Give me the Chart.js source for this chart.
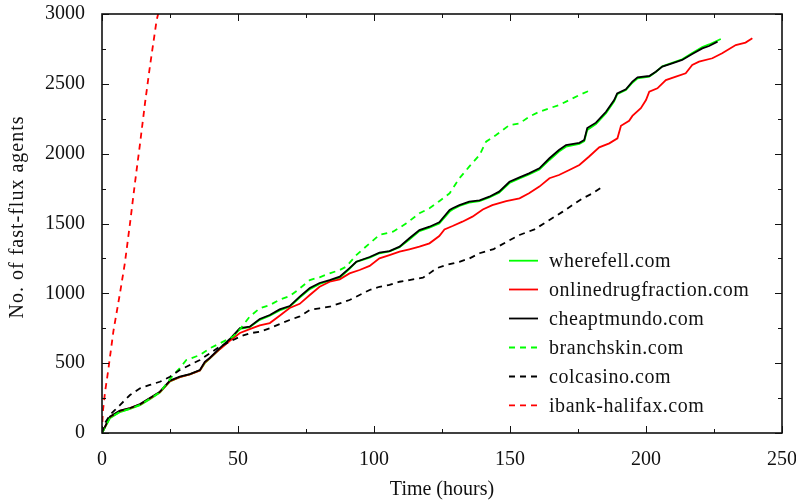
<!DOCTYPE html>
<html>
<head>
<meta charset="utf-8">
<script src="https://cdn.jsdelivr.net/npm/chart.js@4/dist/chart.umd.min.js"></script>
<style>
  html, body { margin: 0; padding: 0; background: #fff; }
  #wrap { width: 796px; height: 504px; }
</style>
</head>
<body>
<div id="wrap"><canvas id="c" width="796" height="504"></canvas></div>
<script>
// ---- Data ----
const seriesLabels = ["wherefell.com", "onlinedrugfraction.com", "cheaptmundo.com", "branchskin.com", "colcasino.com", "ibank-halifax.com"];

const wherefellX = [0, 2.9, 6.6, 10.3, 14, 17.6, 21.3, 25, 28.6, 32.3, 36, 37.8, 39.6, 43.3, 47, 50.7, 54.3, 58, 61.7, 65.3, 69, 72.7, 76.4, 80, 83.7, 87.4, 91, 93.5, 98.4, 102, 105.7, 109.4, 113, 116.7, 120.4, 124, 127.8, 128.9, 131.4, 135, 138.8, 142.4, 146, 149.8, 153.5, 157, 160.8, 164.5, 168, 170.6, 175.5, 177.3, 178.4, 181.6, 185.3, 188.3, 189.4, 192.6, 195, 196.9, 201.2, 203.6, 206, 209.6, 213.3, 217, 220.7, 223.2, 227.5];
const wherefellY = [0, 105, 150, 172, 200, 242, 290, 370, 400, 420, 448, 500, 532, 600, 665, 745, 758, 810, 840, 878, 905, 970, 1030, 1068, 1090, 1112, 1175, 1226, 1255, 1287, 1300, 1330, 1385, 1445, 1470, 1500, 1585, 1600, 1626, 1650, 1660, 1686, 1720, 1790, 1822, 1852, 1886, 1955, 2015, 2050, 2070, 2090, 2170, 2212, 2290, 2375, 2425, 2455, 2508, 2540, 2552, 2585, 2625, 2650, 2676, 2720, 2764, 2782, 2821];

const onlinedrugX = [0, 2.9, 6.6, 10.3, 14, 17.6, 21.3, 25, 28.6, 32.3, 36, 37.8, 39.6, 43.3, 47, 50.7, 54.3, 58, 61.7, 65.3, 69, 72.7, 76.4, 80, 83.7, 87.4, 91, 94.7, 98.4, 102, 105.7, 109.4, 113, 116.7, 120.4, 124, 125.9, 128.9, 132.5, 136.2, 140, 143.5, 148.6, 153.5, 157, 160.8, 164.5, 168, 171.8, 175.5, 179, 182.8, 186.5, 189.5, 190.8, 193.8, 195, 198.1, 200, 201.2, 204.2, 207.3, 211, 214.6, 217, 219.5, 224.4, 228, 233, 236.6, 239.1];
const onlinedrugY = [0, 115, 158, 178, 205, 248, 294, 372, 400, 420, 448, 505, 535, 600, 660, 716, 744, 770, 787, 840, 895, 925, 988, 1047, 1083, 1100, 1143, 1167, 1196, 1251, 1274, 1298, 1315, 1334, 1358, 1410, 1458, 1482, 1513, 1549, 1600, 1632, 1661, 1680, 1716, 1764, 1824, 1847, 1883, 1919, 1978, 2045, 2074, 2110, 2200, 2235, 2270, 2325, 2384, 2444, 2468, 2527, 2551, 2575, 2635, 2659, 2683, 2719, 2778, 2795, 2826];

const cheaptmundoX = [0, 2.9, 6.6, 10.3, 14, 17.6, 21.3, 25, 28.6, 32.3, 36, 37.8, 39.6, 43.3, 47, 50.7, 54.3, 58, 61.7, 65.3, 69, 72.7, 76.4, 80, 83.7, 87.4, 91, 93.5, 98.4, 102, 105.7, 109.4, 113, 116.7, 120.4, 124, 127.8, 128.9, 131.4, 135, 138.8, 142.4, 146, 149.8, 153.5, 157, 160.8, 164.5, 168, 170.6, 175.5, 177.3, 178.4, 181.6, 185.3, 188.3, 189.4, 192.6, 195, 196.9, 201.2, 203.6, 206, 209.6, 213.3, 217, 220.7, 223.2, 226.3];
const cheaptmundoY = [0, 117, 160, 179, 207, 250, 296, 375, 403, 422, 451, 510, 537, 608, 673, 751, 761, 816, 845, 885, 909, 976, 1038, 1074, 1095, 1119, 1181, 1226, 1260, 1291, 1303, 1334, 1394, 1453, 1477, 1508, 1597, 1609, 1632, 1656, 1666, 1692, 1728, 1799, 1830, 1859, 1895, 1967, 2026, 2062, 2078, 2098, 2184, 2222, 2300, 2384, 2432, 2461, 2516, 2547, 2556, 2587, 2623, 2647, 2671, 2714, 2754, 2771, 2802];

const branchskinX = [0, 2.9, 6.6, 10.3, 14, 17.6, 21.3, 25.7, 28.6, 31, 36, 39.6, 43.3, 48.2, 50.7, 54.3, 58, 61.7, 65.3, 69, 72, 76.4, 80, 83.7, 87.4, 89.8, 93.5, 98.4, 102, 107, 111.9, 116.7, 120.4, 124, 127.8, 131.4, 135, 138.8, 141.2, 144.9, 149.8, 153.5, 157.1, 160.8, 164.5, 168.1, 171.8, 175.5, 179.8];
const branchskinY = [0, 108, 152, 174, 202, 245, 292, 403, 465, 523, 558, 606, 642, 690, 742, 833, 893, 916, 955, 980, 1024, 1095, 1115, 1143, 1167, 1191, 1274, 1358, 1418, 1441, 1501, 1573, 1609, 1660, 1716, 1824, 1907, 1990, 2086, 2134, 2205, 2217, 2265, 2300, 2325, 2348, 2384, 2420, 2456];

const colcasinoX = [0, 1.1, 2.9, 4.8, 6.6, 10.3, 14, 17.6, 21.3, 25, 28.6, 32.3, 36, 39.6, 43.3, 47, 50.7, 54.3, 58, 61.7, 65.3, 69, 72.7, 76.4, 80, 83.7, 87.4, 91, 94.7, 98.4, 102, 105.7, 109.4, 113, 118, 120.4, 122.9, 126.5, 131.4, 135.1, 138.8, 144, 150, 153.5, 159, 164.5, 169.4, 173, 176.7, 180.4, 184];
const colcasinoY = [0, 71, 129, 165, 200, 272, 320, 344, 367, 403, 451, 487, 523, 570, 618, 654, 690, 714, 725, 750, 780, 809, 835, 881, 893, 904, 928, 952, 988, 1024, 1047, 1060, 1083, 1095, 1112, 1143, 1179, 1203, 1226, 1250, 1287, 1317, 1382, 1418, 1458, 1525, 1585, 1632, 1680, 1716, 1764];

const ibankX = [0, 0.3, 1.1, 2.3, 4.2, 6.6, 8.4, 10.3, 12.1, 14, 15.8, 17.6, 20.1, 20.7];
const ibankY = [0, 150, 290, 451, 730, 1000, 1215, 1501, 1788, 2074, 2360, 2623, 2957, 3005];

const xTickValues = [0, 50, 100, 150, 200, 250];
const yTickValues = [0, 500, 1000, 1500, 2000, 2500, 3000];
const xRange = [0, 250];
const yRange = [0, 3000];
const yAxisTitle = 'No. of fast-flux agents';
const xAxisTitle = 'Time (hours)';

// ---- Build chart ----
function pts(xs, ys) { return xs.map((x, i) => ({ x: x, y: ys[i] })); }

const FONT = "'Liberation Serif', 'DejaVu Serif', serif";
const GREEN = '#00ff00', RED = '#ff0000', BLACK = '#000000';
const DASH = [6, 5];

const datasets = [
  { label: seriesLabels[0], data: pts(wherefellX, wherefellY), borderColor: GREEN, order: 6, borderDash: [] },
  { label: seriesLabels[1], data: pts(onlinedrugX, onlinedrugY), borderColor: RED, order: 5, borderDash: [] },
  { label: seriesLabels[2], data: pts(cheaptmundoX, cheaptmundoY), borderColor: BLACK, order: 4, borderDash: [] },
  { label: seriesLabels[3], data: pts(branchskinX, branchskinY), borderColor: GREEN, order: 3, borderDash: DASH },
  { label: seriesLabels[4], data: pts(colcasinoX, colcasinoY), borderColor: BLACK, order: 2, borderDash: DASH },
  { label: seriesLabels[5], data: pts(ibankX, ibankY), borderColor: RED, order: 1, borderDash: DASH }
].map(d => Object.assign(d, { borderWidth: 1.8, pointRadius: 0, tension: 0, fill: false }));

const framePlugin = {
  id: 'frame',
  afterDatasetsDraw(chart) {
    const { ctx, chartArea: a, scales: { x, y } } = chart;
    ctx.save();
    ctx.strokeStyle = '#111';
    ctx.lineWidth = 1;
    ctx.setLineDash([]);
    ctx.beginPath();
    for (let v = yRange[0]; v <= yRange[1]; v += 250) {
      const py = Math.round(y.getPixelForValue(v)) + 0.5;
      const len = (v % 500 === 0) ? 7 : 4;
      ctx.moveTo(a.left, py); ctx.lineTo(a.left + len, py);
      ctx.moveTo(a.right, py); ctx.lineTo(a.right - len, py);
    }
    for (let v = xRange[0]; v <= xRange[1]; v += 25) {
      const px = Math.round(x.getPixelForValue(v)) + 0.5;
      const len = (v % 50 === 0) ? 7 : 4;
      ctx.moveTo(px, a.bottom); ctx.lineTo(px, a.bottom - len);
      ctx.moveTo(px, a.top); ctx.lineTo(px, a.top + len);
    }
    ctx.stroke();
    ctx.lineWidth = 1.6;
    ctx.strokeRect(a.left, a.top, a.right - a.left, a.bottom - a.top);

    // legend
    const rows = [260.7, 289.5, 318.5, 347.5, 376.5, 405.3];
    ctx.font = "20px " + FONT;
    ctx.textBaseline = 'middle';
    ctx.textAlign = 'left';
    chart.data.datasets.forEach((d, i) => {
      const yy = rows[i];
      ctx.strokeStyle = d.borderColor;
      ctx.lineWidth = 1.8;
      ctx.setLineDash(d.borderDash);
      ctx.beginPath();
      ctx.moveTo(509, yy); ctx.lineTo(538, yy);
      ctx.stroke();
      ctx.setLineDash([]);
      ctx.fillStyle = '#111';
      ctx.letterSpacing = '0.55px';
      ctx.fillText(d.label, 549, yy + 1);
      ctx.letterSpacing = '0px';
    });

    // y axis title
    ctx.save();
    ctx.translate(18, 217);
    ctx.rotate(-Math.PI / 2);
    ctx.textAlign = 'center';
    ctx.textBaseline = 'middle';
    ctx.letterSpacing = '1px';
    ctx.fillStyle = '#111';
    ctx.fillText(yAxisTitle, 0, 0);
    ctx.restore();
    ctx.restore();
  }
};

function zeroPad(s) { s.paddingLeft = 0; s.paddingRight = 0; s.paddingTop = 0; s.paddingBottom = 0; }

new Chart(document.getElementById('c'), {
  type: 'line',
  data: { datasets },
  plugins: [framePlugin],
  options: {
    responsive: false,
    animation: false,
    events: [],
    layout: { padding: { top: 14, right: 14, left: 0, bottom: 0 } },
    plugins: { legend: { display: false }, tooltip: { enabled: false } },
    scales: {
      x: {
        type: 'linear', min: xRange[0], max: xRange[1],
        grid: { display: false, drawTicks: false }, border: { display: false },
        afterBuildTicks: s => { s.ticks = xTickValues.map(v => ({ value: v })); },
        afterFit: s => { s.height = 71; zeroPad(s); },
        ticks: { padding: 15, color: '#111', font: { family: FONT, size: 20 }, maxRotation: 0, autoSkip: false, callback: v => String(v) },
        title: { display: true, text: xAxisTitle, color: '#111', font: { family: FONT, size: 20 }, padding: { top: 0, bottom: 2 } }
      },
      y: {
        type: 'linear', min: yRange[0], max: yRange[1],
        grid: { display: false, drawTicks: false }, border: { display: false },
        afterBuildTicks: s => { s.ticks = yTickValues.map(v => ({ value: v })); },
        afterFit: s => { s.width = 102; zeroPad(s); },
        ticks: { padding: 17, color: '#111', font: { family: FONT, size: 20 }, autoSkip: false, callback: v => String(v) },
        title: { display: false }
      }
    }
  }
});
</script>
</body>
</html>
